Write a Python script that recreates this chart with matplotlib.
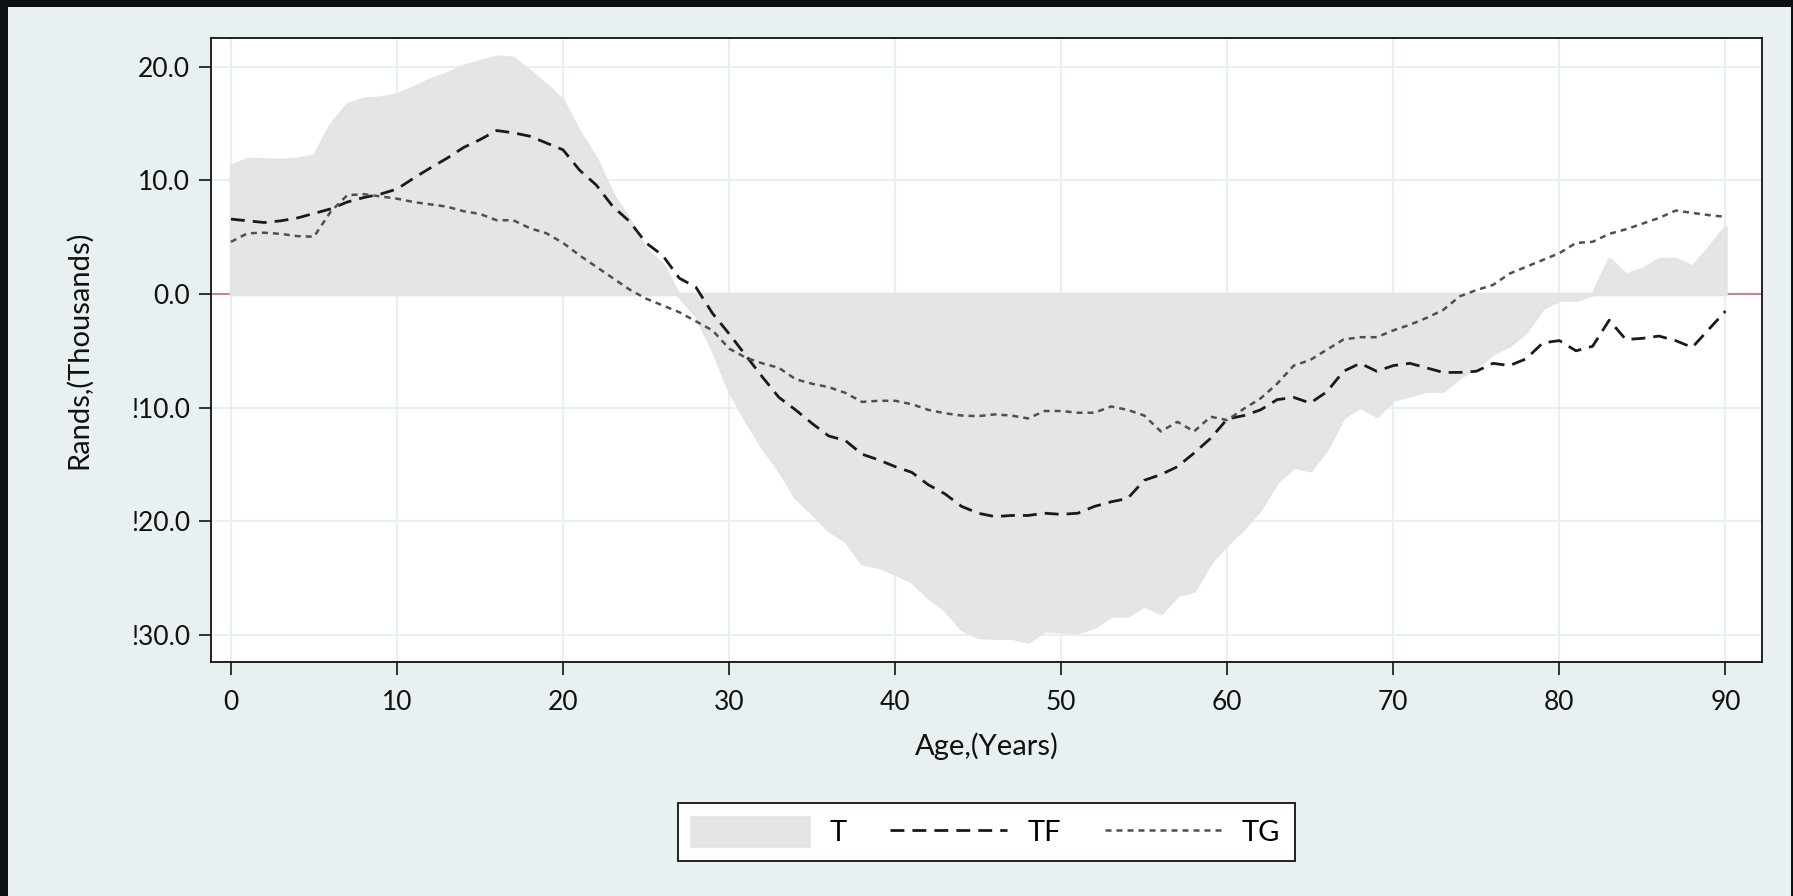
#!/usr/bin/env python3
# age profile of net transfers: T (shaded), TF (family) and TG (government)

import matplotlib
matplotlib.use('Agg')
import matplotlib.pyplot as plt
from matplotlib.patches import Rectangle

ages = list(range(0, 91))

# T: total net transfers, thousands of rands
t_vals = [11.3, 11.9, 11.85, 11.8, 11.9, 12.2, 14.9, 16.7, 17.2, 17.3,
          17.6, 18.2, 18.9, 19.4, 20.1, 20.5, 20.9, 20.8, 19.6, 18.4,
          17.0, 14.2, 11.9, 8.7, 6.5, 3.9, 2.6, -0.2, -1.9, -4.9,
          -8.5, -11.1, -13.5, -15.5, -17.9, -19.3, -20.8, -21.7, -23.7, -24.0,
          -24.6, -25.3, -26.7, -27.8, -29.5, -30.2, -30.25, -30.25, -30.6, -29.6,
          -29.7, -29.75, -29.3, -28.3, -28.3, -27.4, -28.1, -26.5, -26.1, -23.6,
          -22.0, -20.6, -18.9, -16.5, -15.2, -15.5, -13.6, -10.8, -9.9, -10.7,
          -9.3, -8.9, -8.5, -8.5, -7.3, -6.4, -5.2, -4.5, -3.3, -1.2,
          -0.5, -0.5, 0.0, 3.1, 1.7, 2.2, 3.05, 3.1, 2.4, 4.1,
          5.9]

# TF: family transfers
tf_vals = [6.6, 6.45, 6.3, 6.45, 6.7, 7.1, 7.5, 8.1, 8.5, 8.8,
           9.25, 10.2, 11.1, 11.95, 12.9, 13.6, 14.4, 14.2, 13.9, 13.3,
           12.7, 10.9, 9.6, 7.7, 6.4, 4.5, 3.4, 1.4, 0.6, -1.7,
           -3.5, -5.4, -7.3, -9.1, -10.2, -11.4, -12.5, -12.9, -14.1, -14.6,
           -15.2, -15.7, -16.8, -17.6, -18.7, -19.3, -19.6, -19.5, -19.5, -19.3,
           -19.4, -19.3, -18.7, -18.3, -18.0, -16.4, -15.9, -15.2, -14.0, -12.7,
           -11.0, -10.7, -10.2, -9.3, -9.1, -9.6, -8.6, -6.8, -6.1, -6.8,
           -6.3, -6.1, -6.5, -6.9, -6.9, -6.8, -6.1, -6.3, -5.7, -4.3,
           -4.1, -5.0, -4.6, -2.3, -4.0, -3.9, -3.7, -4.1, -4.7, -3.1,
           -1.5]

# TG: government transfers
tg_vals = [4.6, 5.35, 5.4, 5.3, 5.1, 5.05, 7.25, 8.7, 8.8, 8.6,
           8.4, 8.1, 7.9, 7.7, 7.3, 7.05, 6.5, 6.5, 5.8, 5.35,
           4.5, 3.4, 2.4, 1.4, 0.4, -0.4, -1.0, -1.6, -2.4, -3.2,
           -4.8, -5.6, -6.1, -6.5, -7.5, -7.9, -8.2, -8.7, -9.5, -9.4,
           -9.4, -9.7, -10.2, -10.5, -10.7, -10.75, -10.6, -10.7, -10.95, -10.3,
           -10.3, -10.45, -10.45, -9.9, -10.2, -10.7, -12.1, -11.25, -12.1, -10.8,
           -11.1, -10.1, -9.2, -7.9, -6.3, -5.8, -4.9, -4.0, -3.8, -3.8,
           -3.2, -2.7, -2.1, -1.4, -0.2, 0.35, 0.8, 1.8, 2.4, 3.0,
           3.6, 4.5, 4.6, 5.3, 5.7, 6.2, 6.7, 7.35, 7.15, 6.95,
           6.8]

x_ticks = [0, 10, 20, 30, 40, 50, 60, 70, 80, 90]
y_ticks = [-30, -20, -10, 0, 10, 20]
y_ticklabels = ['!30.0', '!20.0', '!10.0', '0.0', '10.0', '20.0']

plt.rcParams['font.family'] = ['Lato', 'DejaVu Sans']

bg = '#e8f0f2'
fig = plt.figure(figsize=(17.93, 8.96), dpi=100, facecolor='#0d1013')
# light panel inside the dark frame
fig.patches.append(Rectangle((8 / 1793, 0), (1791 - 8) / 1793, 889 / 896,
                             transform=fig.transFigure, facecolor=bg,
                             edgecolor='none', zorder=-10))

ax = fig.add_axes([0.1177, 0.2612, 0.8650, 0.6964])
ax.set_facecolor('white')

ax.axhline(0, color='#d8708c', lw=1.3, zorder=1)
ax.fill_between(ages, 0, t_vals, facecolor='#e5e5e5', edgecolor='#e4e4e4',
                lw=2.6, zorder=2, label='T')
ax.plot(ages, tf_vals, color='#1a1a1a', lw=2.0, dashes=(5.0, 2.9), zorder=3, label='TF')
ax.plot(ages, tg_vals, color='#505050', lw=1.8, dashes=(2.4, 2.0), zorder=3, label='TG')

ax.set_xlim(-1.2, 92.2)
ax.set_ylim(-32.4, 22.55)
ax.set_xticks(x_ticks)
ax.set_yticks(y_ticks)
ax.set_yticklabels(y_ticklabels)
ax.grid(True, color='#e8f0f2', lw=1.6, zorder=0)
ax.set_axisbelow(True)

for s in ax.spines.values():
    s.set_color('#111111')
    s.set_linewidth(1.3)
ax.tick_params(axis='both', direction='out', length=9, width=1.3, color='#222222',
               labelsize=19, labelcolor='#111111')
ax.tick_params(axis='x', pad=11)
ax.tick_params(axis='y', pad=6)

ax.set_xlabel('Age,(Years)', fontsize=21, color='#111111')
ax.set_ylabel('Rands,(Thousands)', fontsize=21, color='#111111')
ax.xaxis.set_label_coords(0.5, -0.113)
ax.yaxis.set_label_coords(-0.077, 0.5)

leg = fig.legend(loc='upper center', bbox_to_anchor=(0.55, 0.1038), ncol=3,
                 fontsize=21, frameon=True, fancybox=False, handlelength=4.0,
                 handleheight=1.1, handletextpad=0.7, columnspacing=1.5,
                 borderpad=0.5, borderaxespad=0)
leg.get_frame().set_edgecolor('#111111')
leg.get_frame().set_linewidth(1.3)
leg.get_frame().set_facecolor('white')
leg.get_frame().set_alpha(1)

fig.savefig('out.png', dpi=100, facecolor=fig.get_facecolor())
